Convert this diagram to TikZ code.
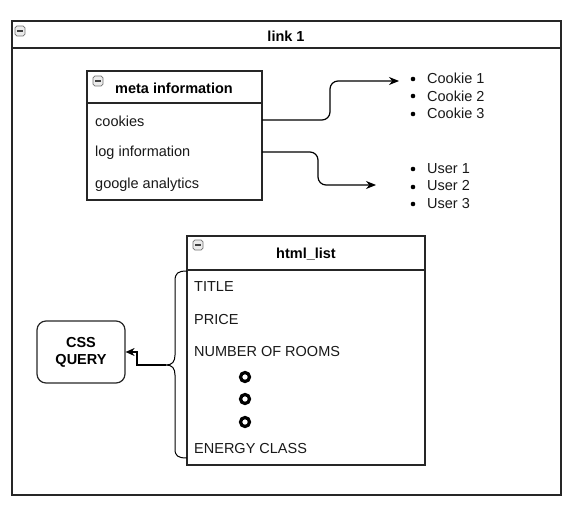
\documentclass[tikz,border=0pt]{standalone}
\usepackage{fontspec}
\setmainfont{Liberation Sans}
\usetikzlibrary{arrows.meta}
\begin{document}
\begin{tikzpicture}[x=1pt,y=-1pt,
  box/.style={draw=black!85,line width=1.2pt},
  lbl/.style={font=\fontsize{14.5}{16}\selectfont,anchor=west,inner sep=0pt,text=black!90},
  ttl/.style={font=\bfseries\fontsize{14.5}{16}\selectfont,inner sep=0pt},
  minus/.style={draw=black!55,fill=black!8,rounded corners=1.8pt,minimum size=10pt,inner sep=0pt,line width=0.7pt,
     path picture={\draw[black!75,line width=1.2pt] ([xshift=-2.6pt]path picture bounding box.center)--([xshift=2.6pt]path picture bounding box.center);}},
  conn/.style={line width=1.2pt,rounded corners=8pt},
  bul/.style={circle,fill=black,inner sep=0pt,minimum size=4.6pt},
  ring/.style={circle,draw=black,line width=3.2pt,inner sep=0pt,minimum size=9pt}
]
\useasboundingbox (0,0) rectangle (577,508);
% outer frame
\draw[box] (12,21) rectangle (561,495);
\draw[box] (12,48) -- (561,48);
\node[minus] (m0) at (20,31) {};
\node[ttl] (t0) at (286,36) {link 1};
% meta information
\draw[box,fill=white] (87,71) rectangle (262,200);
\draw[box] (87,103) -- (262,103);
\node[minus] (m1) at (98,81) {};
\node[ttl] (t1) at (174,88) {meta information};
\node[lbl] (cookies) at (95,121) {cookies};
\node[lbl] (log) at (95,153) {log information};
\node[lbl] (ga) at (95,185) {google analytics};
\coordinate (c1s) at (262,120);
\coordinate (c2s) at (262,152);
% cookie list
\node[bul] (b1) at (413,79) {};
\node[bul] (b2) at (413,96) {};
\node[bul] (b3) at (413,114) {};
\node[lbl] (ck1) at (427,78) {Cookie 1};
\node[lbl] (ck2) at (427,96) {Cookie 2};
\node[lbl] (ck3) at (427,113) {Cookie 3};
\node[bul] (u1b) at (413,169) {};
\node[bul] (u2b) at (413,187) {};
\node[bul] (u3b) at (413,204) {};
\node[lbl] (us1) at (427,169) {User 1};
\node[lbl] (us2) at (427,186) {User 2};
\node[lbl] (us3) at (427,204) {User 3};
\coordinate (c1e) at (399,81);
\coordinate (c2e) at (376,185);
\draw[conn,-{Stealth[length=10pt,width=8pt]}] (c1s) -- (330,120) -- (330,81) -- (c1e);
\draw[conn,-{Stealth[length=10pt,width=8pt]}] (c2s) -- (318,152) -- (318,185) -- (c2e);
% html_list
\draw[box,fill=white] (187,236) rectangle (425,465);
\draw[box] (187,270) -- (425,270);
\node[minus] (m2) at (198,245) {};
\node[ttl] (t2) at (306,254) {html\_list};
\node[lbl] (title) at (194,287) {TITLE};
\node[lbl] (price) at (194,320) {PRICE};
\node[lbl] (rooms) at (194,352) {NUMBER OF ROOMS};
\node[ring] (r1) at (245,377) {};
\node[ring] (r2) at (245,399) {};
\node[ring] (r3) at (245,422) {};
\node[lbl] (energy) at (194,449) {ENERGY CLASS};
% brace
\coordinate (tip) at (166,365);
\draw[line width=1pt] (187,271) .. controls (178,271) and (175,273) .. (175,281) -- (175,355)
   .. controls (175,362) and (172,365) .. (tip)
   .. controls (172,365) and (175,368) .. (175,375) -- (175,449)
   .. controls (175,456) and (178,458) .. (187,458);
% CSS query
\node[draw=black!85,line width=1.2pt,rounded corners=9pt,minimum width=88pt,minimum height=62pt,
  align=center,font=\bfseries\fontsize{14.5}{17}\selectfont] (css) at (81,352) {CSS\\QUERY};
\draw[line width=1.2pt,-{Stealth[length=9pt,width=8pt]}] (tip) -- (137,365) -- (137,352) -- (css.east);
\end{tikzpicture}
\end{document}
